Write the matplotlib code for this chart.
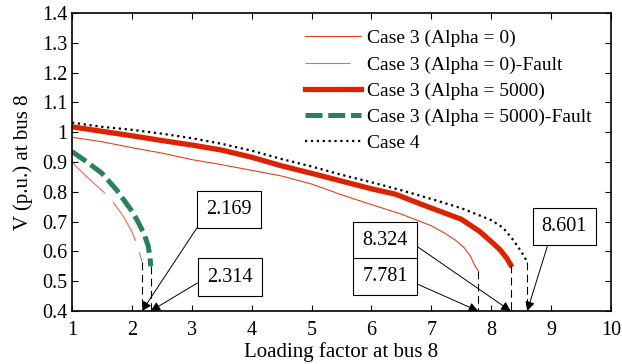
import matplotlib
matplotlib.use("Agg")
import matplotlib.pyplot as plt

plt.rcParams['font.family'] = ['Liberation Serif', 'DejaVu Serif']

# Case 3 (Alpha = 0)
x_a0 = [1, 1.5, 2, 2.5, 3, 3.5, 4, 4.5, 5, 5.5, 6, 6.5, 7, 7.2, 7.4, 7.55, 7.65, 7.72, 7.781]
v_a0 = [0.983, 0.968, 0.948, 0.93, 0.908, 0.891, 0.872, 0.853, 0.826, 0.79, 0.757, 0.725,
        0.686, 0.664, 0.638, 0.612, 0.585, 0.555, 0.535]

# Case 3 (Alpha = 0)-Fault
x_a0f = [1, 1.25, 1.55, 1.72, 1.85, 2.0, 2.08, 2.12, 2.169]
v_a0f = [0.898, 0.85, 0.795, 0.756, 0.72, 0.666, 0.627, 0.60, 0.565]

# Case 3 (Alpha = 5000)
x_a5 = [1, 1.5, 2, 2.5, 3, 3.5, 4, 4.5, 5, 5.5, 6, 6.4, 6.9, 7.5, 7.8, 8.0, 8.15, 8.26, 8.324]
v_a5 = [1.018, 1.003, 0.988, 0.972, 0.957, 0.94, 0.916, 0.887, 0.862, 0.836, 0.81, 0.792,
        0.753, 0.708, 0.668, 0.633, 0.605, 0.577, 0.555]

# Case 3 (Alpha = 5000)-Fault
x_a5f = [1, 1.25, 1.5, 1.75, 2.0, 2.1, 2.2, 2.27, 2.3, 2.314]
v_a5f = [0.935, 0.9, 0.862, 0.805, 0.735, 0.7, 0.66, 0.62, 0.585, 0.55]

# Case 4
x_c4 = [1, 1.5, 2, 2.5, 3, 3.5, 4, 4.5, 5, 5.5, 6, 6.5, 7, 7.5, 8.0, 8.2, 8.36, 8.5, 8.601]
v_c4 = [1.032, 1.018, 1.008, 0.995, 0.98, 0.961, 0.938, 0.91, 0.885, 0.857, 0.832, 0.805,
        0.776, 0.745, 0.705, 0.679, 0.64, 0.6, 0.565]

labels = ['Case 3 (Alpha = 0)', 'Case 3 (Alpha = 0)-Fault', 'Case 3 (Alpha = 5000)',
          'Case 3 (Alpha = 5000)-Fault', 'Case 4']

# collapse points and where their boxes sit
limits = [2.169, 2.314, 8.324, 7.781, 8.601]
box_pos = [(3.62, 0.742), (3.64, 0.514), (6.23, 0.638), (6.23, 0.517), (9.22, 0.685)]
box_rel = [(0, 0.25), (0, 0.5), (1, 0.5), (1, 0.3), (0.2, 0)]

fig = plt.figure(figsize=(6.22, 3.64), dpi=100)
ax = fig.add_axes([0.1158, 0.1456, 0.8665, 0.8187])

ax.plot(x_a0, v_a0, color='#E8401C', lw=0.8, label=labels[0])
ax.plot(x_a0f, v_a0f, color='#EE6A4C', lw=0.8, linestyle=(0, (40.5, 10.8)), label=labels[1])
ax.plot(x_a5, v_a5, color='#DD2200', lw=3.8, label=labels[2])
ax.plot(x_a5f, v_a5f, color='#2A8058', lw=3.6, linestyle=(0, (3.4, 1.15)), label=labels[3])
ax.plot(x_c4, v_c4, color='black', lw=1.6, linestyle=':', label=labels[4])

# vertical dashed drops from the end of each curve
ends = [v_a0f[-1], v_a5f[-1], v_a5[-1], v_a0[-1], v_c4[-1]]
for xv, yv in zip(limits, ends):
    ax.plot([xv, xv], [yv, 0.4], color='black', lw=0.8, linestyle=(0, (7, 4)))

for xv, pos, rel in zip(limits, box_pos, box_rel):
    ax.annotate('%.3f' % xv, xy=(xv, 0.4), xytext=pos, ha='center', va='center',
                fontsize=14.5,
                bbox=dict(boxstyle='square,pad=0.45', fc='white', ec='black', lw=0.8),
                arrowprops=dict(arrowstyle='-|>', color='black', lw=0.7,
                                mutation_scale=14, relpos=rel, shrinkA=0, shrinkB=0))

ax.set_xlim(1, 10)
ax.set_ylim(0.4, 1.4)
ax.set_xticks(range(1, 11))
ax.set_yticks([0.4, 0.5, 0.6, 0.7, 0.8, 0.9, 1.0, 1.1, 1.2, 1.3, 1.4])
ax.set_yticklabels(['0.4', '0.5', '0.6', '0.7', '0.8', '0.9', '1', '1.1', '1.2', '1.3', '1.4'])
ax.tick_params(direction='in', top=True, right=True, labelsize=14.5, length=4, width=0.8)
ax.tick_params(axis='x', pad=7)
ax.tick_params(axis='y', pad=3.5)
for s in ax.spines.values():
    s.set_linewidth(1.2)

ax.set_xlabel('Loading factor at bus 8', fontsize=15, labelpad=2)
ax.set_ylabel('V (p.u.) at bus 8', fontsize=15, labelpad=6)

ax.legend(loc='upper left', bbox_to_anchor=(0.432, 0.944), frameon=False, fontsize=14,
          borderaxespad=0, borderpad=0, handlelength=2.9, handletextpad=0.31,
          labelspacing=0.44)

fig.savefig('out.png', dpi=100)
